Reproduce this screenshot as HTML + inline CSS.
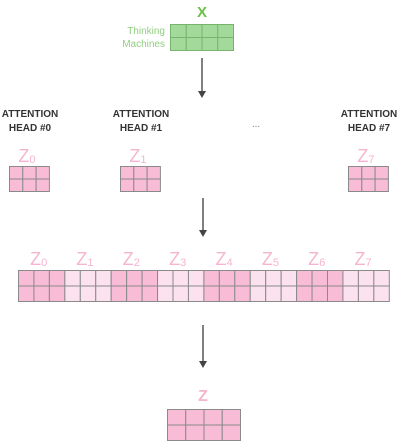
<!DOCTYPE html>
<html><head><meta charset="utf-8"><style>
html,body{margin:0;padding:0;background:#fff;width:400px;height:444px;overflow:hidden}
svg{display:block}
text{font-family:"Liberation Sans",sans-serif}
</style></head><body>
<svg id="s" width="400" height="444">
<text x="202" y="17" text-anchor="middle" font-size="15" font-weight="bold" fill="#6cc04a">X</text>
<text x="165" y="34" text-anchor="end" font-size="10" fill="#8fcf7f">Thinking</text>
<text x="165" y="47" text-anchor="end" font-size="10" fill="#8fcf7f">Machines</text>
<g><line x1="202" y1="58" x2="202" y2="92" stroke="#555" stroke-width="1.5"/><path d="M198,91 L206,91 L202,98 z" fill="#444"/></g>
<g><line x1="203" y1="198" x2="203" y2="231" stroke="#555" stroke-width="1.5"/><path d="M199,230 L207,230 L203,237 z" fill="#444"/></g>
<g><line x1="203" y1="325" x2="203" y2="362" stroke="#555" stroke-width="1.5"/><path d="M199,361 L207,361 L203,368 z" fill="#444"/></g>
<text x="256" y="127" text-anchor="middle" font-size="10" fill="#777">...</text>
<text x="203" y="401" text-anchor="middle" font-size="16" font-weight="bold" fill="#f5b5cf">Z</text>
</svg>
<script>
const svg=document.getElementById('s');
const NS='http://www.w3.org/2000/svg';
function grid(x,y,cols,rows,cw,ch,fill,stroke,name){
  const g=document.createElementNS(NS,'g');
  
  
  for(let r=0;r<rows;r++)for(let c=0;c<cols;c++){
    const f=typeof fill==='function'?fill(c):fill;
    const e=document.createElementNS(NS,'rect');
    e.setAttribute('x',x+c*cw);e.setAttribute('y',y+r*ch);
    e.setAttribute('width',cw);e.setAttribute('height',ch);
    e.setAttribute('fill',f);e.setAttribute('stroke',stroke);e.setAttribute('stroke-width','1');
    
    
    g.appendChild(e);
  }
  svg.appendChild(g);
}
function txt(x,y,s,size,fill,weight,name,sub){
  const t=document.createElementNS(NS,'text');
  t.setAttribute('x',x);t.setAttribute('y',y);t.setAttribute('text-anchor','middle');
  t.setAttribute('font-size',size);t.setAttribute('fill',fill);
  if(weight)t.setAttribute('font-weight',weight);
  t.textContent=s;
  if(sub!==undefined){const ts=document.createElementNS(NS,'tspan');ts.setAttribute('font-size',size*0.62);ts.setAttribute('dy','1');ts.textContent=sub;t.appendChild(ts);}
  
  
  svg.appendChild(t);
}
grid(170.5,24.5,4,2,15.75,13,'#a3d99b','#78b56c','x-matrix');
const heads=[[30,'0'],[141,'1'],[369,'7']];
heads.forEach(h=>{
  txt(h[0],117,'ATTENTION',10,'#333','bold','head-title-'+h[1]);
  txt(h[0],131,'HEAD #'+h[1],10,'#333','bold','head-number-'+h[1]);
  txt(h[0]-3,162,'Z',18,'#f5b5cf',null,'head-z-label-'+h[1],h[1]);
  grid(h[0]-20.5,166.5,3,2,13.3,12.5,'#f8bcd6','#8a8a8a','head-matrix-'+h[1]);
});
const cw=15.45, x0=18.5;
for(let i=0;i<8;i++) txt(x0+cw*3*i+cw*1.5-3,265,'Z',18,'#f5b5cf',null,'concat-z-label-'+i,String(i));
grid(x0,270.5,24,2,cw,15.5,c=>(Math.floor(c/3)%2===0?'#f8bcd6':'#fbe2ee'),'#8a8a8a','concatenated-matrix');
grid(167.5,409.5,4,2,18.25,15.5,'#f8bcd6','#8a8a8a','output-z-matrix');
</script>
</body></html>
